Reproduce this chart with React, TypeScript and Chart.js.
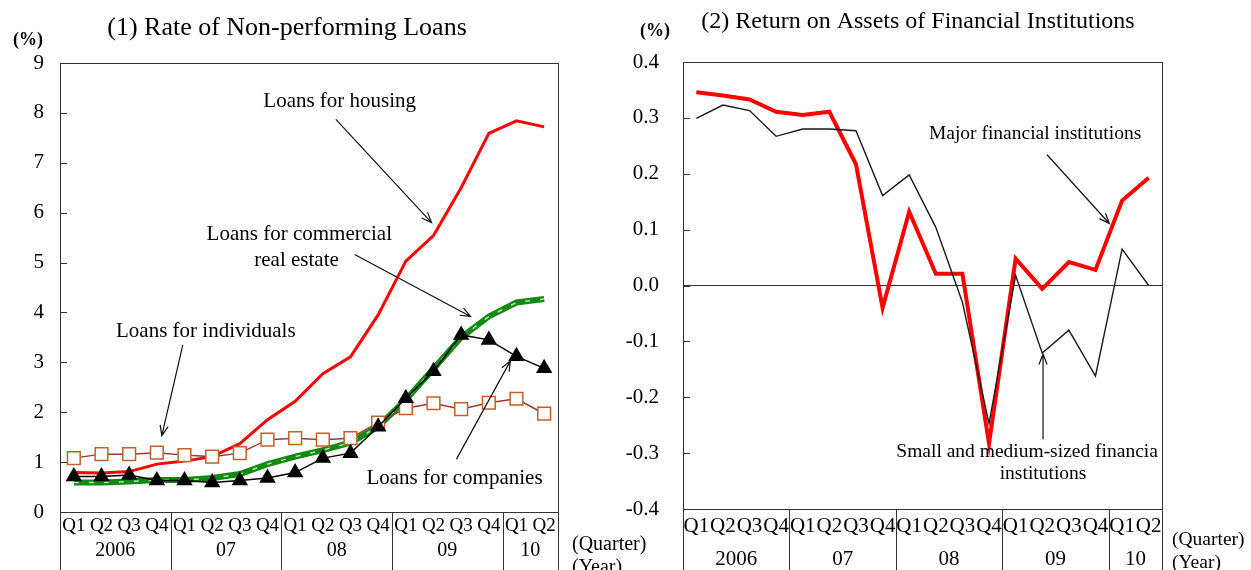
import React, { useEffect, useRef } from "react";
import { Chart, registerables } from "chart.js";

Chart.register(...registerables);

const serif = '"Liberation Serif", "Times New Roman", serif';

// ---------- data ----------
const quarters = ["Q1", "Q2", "Q3", "Q4", "Q1", "Q2", "Q3", "Q4", "Q1", "Q2", "Q3", "Q4", "Q1", "Q2", "Q3", "Q4", "Q1", "Q2"];
const years = ["2006", "07", "08", "09", "10"];
const yearSpans = [4, 4, 4, 4, 2];

const housing = [0.79, 0.78, 0.81, 0.96, 1.02, 1.11, 1.37, 1.85, 2.22, 2.77, 3.11, 3.95, 5.03, 5.54, 6.5, 7.59, 7.84, 7.72];
const commercialRealEstate = [0.59, 0.59, 0.61, 0.64, 0.64, 0.68, 0.76, 0.96, 1.11, 1.24, 1.39, 1.71, 2.25, 2.87, 3.5, 3.92, 4.2, 4.27];
const companies = [0.71, 0.71, 0.74, 0.63, 0.63, 0.59, 0.63, 0.68, 0.79, 1.08, 1.18, 1.71, 2.28, 2.82, 3.55, 3.45, 3.12, 2.88];
const individuals = [1.08, 1.16, 1.16, 1.19, 1.14, 1.11, 1.18, 1.45, 1.48, 1.45, 1.48, 1.79, 2.08, 2.18, 2.06, 2.19, 2.27, 1.97];

const majorROA = [0.346, 0.34, 0.333, 0.311, 0.305, 0.311, 0.217, -0.04, 0.132, 0.021, 0.021, -0.283, 0.048, -0.006, 0.042, 0.028, 0.152, 0.193];
const smallMediumROA = [0.299, 0.323, 0.313, 0.267, 0.28, 0.28, 0.277, 0.161, 0.198, 0.104, -0.03, -0.247, 0.018, -0.121, -0.08, -0.162, 0.065, 0.0];

const leftTickValues = [0, 1, 2, 3, 4, 5, 6, 7, 8, 9];
const rightTickValues = [-0.4, -0.3, -0.2, -0.1, 0, 0.1, 0.2, 0.3, 0.4];

// ---------- annotations (in data coordinates: category index, value) ----------
type Note = { text: string; i: number; v: number };
type Arrow = [number, number, number, number];

const leftNotes: Note[] = [
  { text: "Loans for housing", i: 9.61, v: 8.23 },
  { text: "Loans for commercial", i: 8.15, v: 5.56 },
  { text: "real estate", i: 8.05, v: 5.05 },
  { text: "Loans for individuals", i: 4.77, v: 3.61 },
  { text: "Loans for companies", i: 13.76, v: 0.68 },
];
const leftArrows: Arrow[] = [
  [9.47, 7.87, 12.93, 5.8],
  [10.15, 5.16, 14.34, 3.92],
  [3.94, 3.35, 3.18, 1.53],
  [13.83, 1.06, 15.78, 3.03],
];
const rightNotes: Note[] = [
  { text: "Major financial institutions", i: 12.73, v: 0.271 },
  { text: "Small and medium-sized financia", i: 12.43, v: -0.298 },
  { text: "institutions", i: 13.03, v: -0.338 },
];
const rightArrows: Arrow[] = [
  [13.18, 0.234, 15.52, 0.111],
  [13.03, -0.275, 13.03, -0.123],
];

type DecorOpts = {
  title: string;
  titleX: number;
  titleY: number;
  titleSize: number;
  unitX: number;
  unitY: number;
  qyX: number;
  qySize: number;
  quarterTextY: number;
  yearTextY: number;
  yearLabelY: number;
  yearSize: number;
  notes: Note[];
  arrows: Arrow[];
  noteSize: number;
};

function drawArrow(ctx: CanvasRenderingContext2D, x1: number, y1: number, x2: number, y2: number) {
  const ang = Math.atan2(y2 - y1, x2 - x1);
  const L = 11;
  const s = 0.38;
  ctx.beginPath();
  ctx.moveTo(x1, y1);
  ctx.lineTo(x2, y2);
  ctx.moveTo(x2 - L * Math.cos(ang - s), y2 - L * Math.sin(ang - s));
  ctx.lineTo(x2, y2);
  ctx.lineTo(x2 - L * Math.cos(ang + s), y2 - L * Math.sin(ang + s));
  ctx.stroke();
}

function makeDecor(o: DecorOpts) {
  return {
    id: "decor",
    afterDraw(chart: any) {
      const { ctx, chartArea: a, scales } = chart;
      const x = scales.x;
      const y = scales.y;
      ctx.save();
      // frame
      ctx.strokeStyle = "#333";
      ctx.lineWidth = 1;
      ctx.strokeRect(Math.round(a.left) + 0.5, Math.round(a.top) + 0.5, Math.round(a.right - a.left), Math.round(a.bottom - a.top));
      // inward y ticks
      ctx.beginPath();
      y.ticks.forEach((t: any) => {
        const py = Math.round(y.getPixelForValue(t.value)) + 0.5;
        ctx.moveTo(a.left, py);
        ctx.lineTo(a.left + 7, py);
      });
      ctx.stroke();
      // year separators and labels
      let start = 0;
      ctx.beginPath();
      const px0 = Math.round(x.getPixelForValue(-0.5)) + 0.5;
      ctx.moveTo(px0, a.bottom);
      ctx.lineTo(px0, chart.height);
      ctx.fillStyle = "#000";
      ctx.textAlign = "center";
      ctx.textBaseline = "middle";
      ctx.font = `${o.yearSize}px ${serif}`;
      years.forEach((yr, k) => {
        const span = yearSpans[k];
        const end = start + span;
        const pe = Math.round(x.getPixelForValue(end - 0.5)) + 0.5;
        ctx.moveTo(pe, a.bottom);
        ctx.lineTo(pe, chart.height);
        ctx.fillText(yr, x.getPixelForValue(start + span / 2 - 0.5), o.yearLabelY);
        start = end;
      });
      ctx.stroke();
      // title
      ctx.font = `${o.titleSize}px ${serif}`;
      ctx.fillText(o.title, o.titleX, o.titleY);
      // unit
      ctx.font = `bold 18px ${serif}`;
      ctx.fillText("(%)", o.unitX, o.unitY);
      // quarter / year captions
      ctx.textAlign = "left";
      ctx.font = `${o.qySize}px ${serif}`;
      ctx.fillText("(Quarter)", o.qyX, o.quarterTextY);
      ctx.fillText("(Year)", o.qyX, o.yearTextY);
      // notes
      ctx.textAlign = "center";
      ctx.font = `${o.noteSize}px ${serif}`;
      o.notes.forEach((n) => {
        ctx.fillText(n.text, x.getPixelForValue(n.i), y.getPixelForValue(n.v));
      });
      ctx.strokeStyle = "#111";
      ctx.lineWidth = 1.2;
      o.arrows.forEach(([i1, v1, i2, v2]) => {
        drawArrow(ctx, x.getPixelForValue(i1), y.getPixelForValue(v1), x.getPixelForValue(i2), y.getPixelForValue(v2));
      });
      ctx.restore();
    },
  };
}

function makeLeftConfig(): any {
  return {
    type: "line",
    data: {
      labels: quarters,
      datasets: [
        {
          label: "Loans for companies",
          data: companies,
          borderColor: "#000",
          borderWidth: 1.5,
          pointStyle: "triangle",
          pointRadius: 8,
          pointBackgroundColor: "#000",
          pointBorderColor: "#000",
          order: 0,
        },
        {
          label: "Loans for individuals",
          data: individuals,
          borderColor: "#9a3a30",
          borderWidth: 1.5,
          pointStyle: "rect",
          pointRadius: 9,
          pointBackgroundColor: "#fff",
          pointBorderColor: "#c0602a",
          pointBorderWidth: 1.5,
          order: 1,
        },
        {
          label: "Loans for commercial real estate (highlight)",
          data: commercialRealEstate,
          borderColor: "rgba(255,255,255,0.7)",
          borderWidth: 1.5,
          borderDash: [5, 10],
          pointRadius: 0,
          order: 2,
        },
        {
          label: "Loans for commercial real estate",
          data: commercialRealEstate,
          borderColor: "#108a10",
          borderWidth: 6,
          pointRadius: 0,
          order: 3,
        },
        {
          label: "Loans for housing",
          data: housing,
          borderColor: "#ff0000",
          borderWidth: 3,
          pointRadius: 0,
          order: 4,
        },
      ],
    },
    options: {
      animation: false,
      responsive: false,
      devicePixelRatio: 1,
      layout: { padding: { left: 0, right: 122, top: 63, bottom: 0 } },
      plugins: { legend: { display: false }, tooltip: { enabled: false }, title: { display: false } },
      scales: {
        x: {
          offset: true,
          grid: { display: false, drawTicks: false },
          border: { display: false },
          ticks: { autoSkip: false, maxRotation: 0, minRotation: 0, padding: 3, color: "#000", font: { family: serif, size: 19 } },
          afterFit: (s: any) => {
            s.height = 58;
          },
        },
        y: {
          min: 0,
          max: 9,
          grid: { display: false, drawTicks: false },
          border: { display: false },
          afterBuildTicks: (s: any) => {
            s.ticks = leftTickValues.map((v) => ({ value: v }));
          },
          ticks: { padding: 16, color: "#000", font: { family: serif, size: 21 } },
          afterFit: (s: any) => {
            s.width = 60;
          },
        },
      },
    },
    plugins: [
      makeDecor({
        title: "(1) Rate of Non-performing Loans",
        titleX: 287,
        titleY: 28,
        titleSize: 26,
        unitX: 28,
        unitY: 40,
        qyX: 572,
        qySize: 20,
        quarterTextY: 545,
        yearTextY: 568,
        yearLabelY: 551,
        yearSize: 20,
        notes: leftNotes,
        arrows: leftArrows,
        noteSize: 21,
      }),
    ],
  };
}

function makeRightConfig(): any {
  return {
    type: "line",
    data: {
      labels: quarters,
      datasets: [
        {
          label: "Small and medium-sized financial institutions",
          data: smallMediumROA,
          borderColor: "#1a1a1a",
          borderWidth: 1.4,
          pointRadius: 0,
          order: 0,
        },
        {
          label: "Major financial institutions",
          data: majorROA,
          borderColor: "#ff0000",
          borderWidth: 4,
          pointRadius: 0,
          order: 1,
        },
      ],
    },
    options: {
      animation: false,
      responsive: false,
      devicePixelRatio: 1,
      layout: { padding: { left: 0, right: 89, top: 62, bottom: 0 } },
      plugins: { legend: { display: false }, tooltip: { enabled: false }, title: { display: false } },
      scales: {
        x: {
          offset: true,
          grid: { display: false, drawTicks: false },
          border: { display: false },
          ticks: { autoSkip: false, maxRotation: 0, minRotation: 0, padding: 5, color: "#000", font: { family: serif, size: 21 } },
          afterFit: (s: any) => {
            s.height = 61;
          },
        },
        y: {
          min: -0.4,
          max: 0.4,
          grid: {
            display: true,
            drawTicks: false,
            color: (c: any) => (c.tick && Math.abs(c.tick.value) < 1e-9 ? "#333" : "rgba(0,0,0,0)"),
            lineWidth: 1,
          },
          border: { display: false },
          afterBuildTicks: (s: any) => {
            s.ticks = rightTickValues.map((v) => ({ value: v }));
          },
          ticks: {
            padding: 24,
            color: "#000",
            font: { family: serif, size: 21 },
            callback: (v: any) => (Math.abs(Number(v)) < 1e-9 ? "0.0" : Number(v).toFixed(1)),
          },
          afterFit: (s: any) => {
            s.width = 58;
          },
        },
      },
    },
    plugins: [
      makeDecor({
        title: "(2) Return on Assets of Financial Institutions",
        titleX: 293,
        titleY: 22,
        titleSize: 24,
        unitX: 30,
        unitY: 31,
        qyX: 547,
        qySize: 19.5,
        quarterTextY: 540,
        yearTextY: 563,
        yearLabelY: 559,
        yearSize: 21,
        notes: rightNotes,
        arrows: rightArrows,
        noteSize: 19.5,
      }),
    ],
  };
}

function ChartCanvas({ left, width, height, make }: { left: number; width: number; height: number; make: () => any }) {
  const ref = useRef<HTMLCanvasElement>(null);
  useEffect(() => {
    const chart = new Chart(ref.current as HTMLCanvasElement, make());
    return () => chart.destroy();
  }, []);
  return (
    <canvas
      ref={ref}
      width={width}
      height={height}
      style={{ position: "absolute", left, top: 0, width, height, display: "block" }}
    />
  );
}

export default function App() {
  return (
    <div style={{ position: "absolute", left: 0, top: 0, width: 1251, height: 570, background: "#fff", overflow: "hidden" }}>
      <ChartCanvas left={0} width={680} height={570} make={makeLeftConfig} />
      <ChartCanvas left={625} width={626} height={570} make={makeRightConfig} />
    </div>
  );
}
